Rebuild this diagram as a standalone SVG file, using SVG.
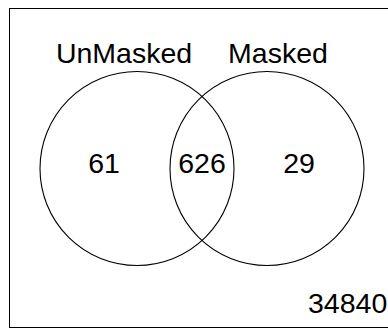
<svg xmlns="http://www.w3.org/2000/svg" width="388" height="329" viewBox="0 0 388 329">
<style>
text{font-family:"Liberation Sans",Arial,sans-serif;font-size:28.5px;fill:#000}
.c{fill:none;stroke:#000;stroke-width:1.1}
</style>
<rect x="0" y="0" width="388" height="329" fill="#fff"/>
<rect x="9.5" y="8.5" width="400" height="319" fill="none" stroke="#000" stroke-width="1"/>
<g id="unmasked">
<circle class="c" cx="137" cy="168.5" r="97"/>
<text x="124" y="63" text-anchor="middle">UnMasked</text>
<text x="104" y="173" text-anchor="middle">61</text>
</g>
<g id="masked">
<circle class="c" cx="267" cy="168.5" r="97"/>
<text x="278" y="63" text-anchor="middle">Masked</text>
<text x="299" y="173" text-anchor="middle">29</text>
</g>
<g id="both">
<text x="202" y="173" text-anchor="middle">626</text>
</g>
<g id="none">
<text x="308" y="313">34840</text>
</g>
<g id="connectors"/>
</svg>
